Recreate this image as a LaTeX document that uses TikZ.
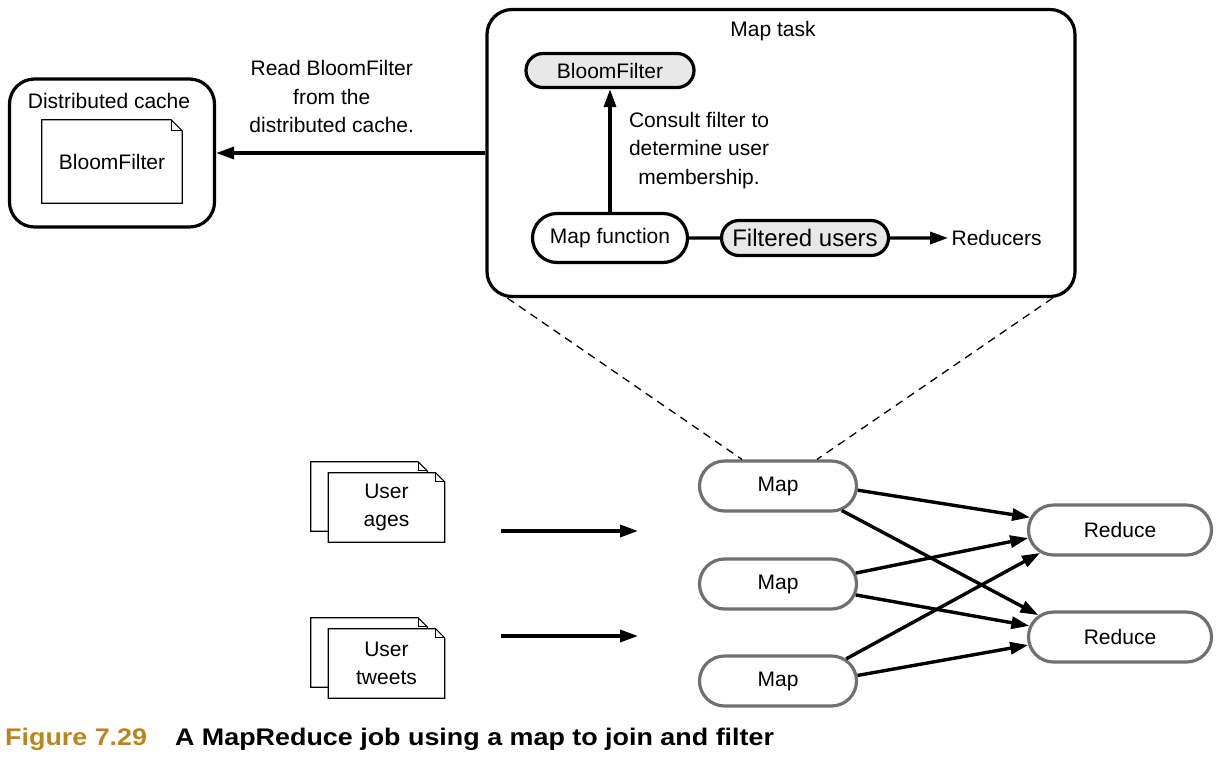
\documentclass[tikz,border=0pt]{standalone}
\usepackage{fontspec}
\setmainfont{Liberation Sans}
\newfontfamily\capfont[FakeStretch=1.12]{Liberation Sans}
\usetikzlibrary{arrows.meta,positioning,shapes.misc}
\definecolor{figgold}{RGB}{186,134,28}
\definecolor{pillgray}{RGB}{232,232,232}
\definecolor{mapgray}{RGB}{112,112,112}
% page outline with a folded corner, drawn round a named node
\newcommand{\dogear}[2]{%
  \draw[docline] (#1.south west) -- (#1.north west) -- ([xshift=-#2]#1.north east)
    -- ([yshift=-#2]#1.north east) -- (#1.south east) -- cycle;
  \draw[docline] ([xshift=-#2]#1.north east) |- ([yshift=-#2]#1.north east);
}

\begin{document}
\begin{tikzpicture}[x=1pt,y=-1pt,font=\fontsize{21}{28.5}\selectfont,
  box/.style={draw,line width=3.2pt,rounded corners=25pt,inner sep=0pt},
  pill/.style={rounded rectangle,draw,line width=3.2pt,inner sep=0pt},
  mapnode/.style={pill,draw=mapgray,minimum height=50pt},
  docpage/.style={fill=white,inner sep=0pt,align=center,
    minimum width=116pt,minimum height=69pt},
  docline/.style={line width=1.2pt},
  flow/.style={-{Triangle[length=18pt,width=12pt]},line width=3.4pt}]
  \useasboundingbox (0,0) rectangle (1224,764);

  % map task and the cache
  \node (task) [box,minimum width=588pt,minimum height=287pt] at (781,153) {};
  \node (tasktitle) at (773,31) {Map task};
  \node (cache) [box,minimum width=205pt,minimum height=148pt] at (112,153) {};
  \node (cachetitle) at (109,101) {Distributed cache};
  \node (cachedoc) [docpage,minimum width=140pt,minimum height=83pt] at (112,161.5) {BloomFilter};
  \dogear{cachedoc}{11pt}
  \draw[flow] (task.west) -- node[above=15pt,xshift=-19pt,align=center]
    {Read BloomFilter\\from the\\distributed cache.} (cache.east);

  \node (bf) [pill,fill=pillgray,minimum width=168pt,minimum height=34pt] at (610,70.5) {BloomFilter};
  \node (mapfn) [pill,minimum width=155pt,minimum height=49pt] at (610,238) {Map function};
  \node (filtered) [pill,fill=pillgray,minimum width=167pt,minimum height=35pt,
    font=\fontsize{24}{28}\selectfont] at (805,238) {Filtered users};
  \node (reducers) [right=58pt of filtered] {Reducers};
  \draw[flow] (mapfn) -- node[right=14pt,align=center]
    {Consult filter to\\determine user\\membership.} (bf);
  \draw[line width=3.4pt] (mapfn) -- (filtered);
  \draw[flow] (filtered) -- (reducers);

  % job: inputs, maps, reduces
  \node (map1) [mapnode,minimum width=157pt] at (778,486) {Map};
  \node (map2) [mapnode,minimum width=157pt] at (778,584) {Map};
  \node (map3) [mapnode,minimum width=157pt] at (778,681) {Map};
  \node (red1) [mapnode,minimum width=183pt] at (1120,530) {Reduce};
  \node (red2) [mapnode,minimum width=183pt] at (1120,637) {Reduce};

  \draw[dashed,line width=1.3pt,dash pattern=on 8pt off 6pt]
    ([xshift=22pt]task.south west) -- ([xshift=-36pt]map1.north);
  \draw[dashed,line width=1.3pt,dash pattern=on 8pt off 6pt]
    ([xshift=-24pt]task.south east) -- ([xshift=39pt]map1.north);

  \foreach \m/\a/\r/\b in {map1/-3/red1/172,map1/-21/red2/165,map2/8/red1/-175,
      map2/-8/red2/173,map3/18/red1/-164,map3/4/red2/-175} {
    \draw[flow] (\m.\a) -- (\r.\b);
  }

  \node (agesback) [docpage] at (369,496.5) {};
  \dogear{agesback}{9pt}
  \node (ages) [docpage] at (386.5,507.5) {User\\ages};
  \dogear{ages}{9pt}
  \node (tweetsback) [docpage] at (369,652.5) {};
  \dogear{tweetsback}{9pt}
  \node (tweets) [docpage] at (386.5,663.5) {User\\tweets};
  \dogear{tweets}{9pt}

  \coordinate (in1) at (501,531);
  \coordinate (out1) at (638,531);
  \coordinate (in2) at (501,636);
  \coordinate (out2) at (638,636);
  \draw[flow] (in1) -- (out1);
  \draw[flow] (in2) -- (out2);

  \node (caption) [anchor=base west,inner sep=0pt,font=\capfont\fontsize{24}{28}\selectfont\bfseries]
    at (5,745) {\textcolor{figgold}{Figure 7.29}\hspace{28pt}A MapReduce job using a map to join and filter};
\end{tikzpicture}
\end{document}
